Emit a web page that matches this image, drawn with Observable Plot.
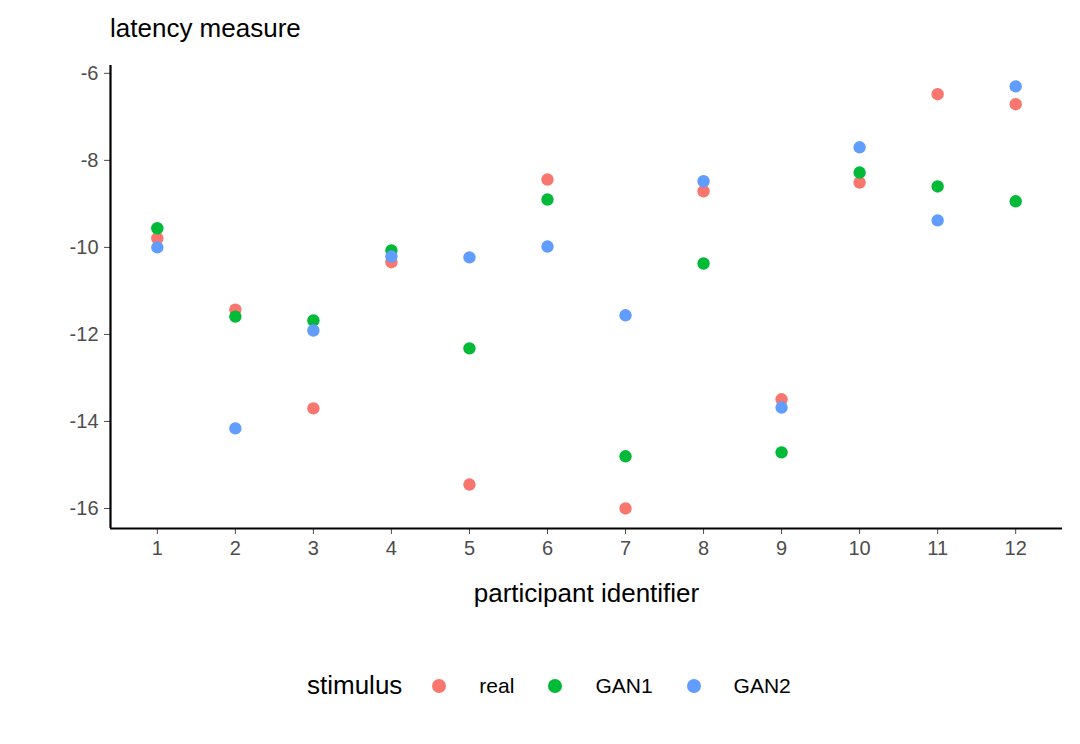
<!DOCTYPE html>
<html><head><meta charset="utf-8">
<script src="https://cdn.jsdelivr.net/npm/d3@7"></script>
<script src="https://cdn.jsdelivr.net/npm/@observablehq/plot@0.6"></script>
<style>
body{margin:0;background:#fff;font-family:"Liberation Sans",Arial,sans-serif;}
#wrap{position:relative;width:1080px;height:744px;}
#title{position:absolute;left:110px;top:13px;font-size:26px;color:#000;}
#legend{position:absolute;top:670px;left:307px;font-size:26px;display:flex;align-items:center;}
.sw{display:inline-block;width:14px;height:14px;border-radius:50%;margin:0 33px 0 34px;}
.lab{font-size:21px;color:#000;}
</style></head><body>
<div id="wrap"><div id="title">latency measure</div><div id="chart"></div><div id="legend"></div></div>
<script>
const participants=[1,2,3,4,5,6,7,8,9,10,11,12];
const real=[-9.79,-11.43,-13.70,-10.34,-15.45,-8.44,-16.0,-8.71,-13.49,-8.51,-6.48,-6.71];
const gan1=[-9.56,-11.59,-11.68,-10.07,-12.32,-8.90,-14.80,-10.37,-14.71,-8.28,-8.60,-8.94];
const gan2=[-10.0,-14.16,-11.91,-10.21,-10.23,-9.98,-11.56,-8.48,-13.68,-7.70,-9.38,-6.30];
const stimuli=["real","GAN1","GAN2"];
const colors=["#F8766D","#00BA38","#619CFF"];
const series=[real,gan1,gan2];
const data=[];
stimuli.forEach((s,i)=>participants.forEach((p,j)=>data.push({p,v:series[i][j],s})));
const plot=Plot.plot({
  width:1080,height:640,marginLeft:110,marginRight:18,marginTop:65,marginBottom:112,
  style:{fontFamily:"Liberation Sans, Arial, sans-serif",fontSize:"20px",color:"#4d4d4d"},
  x:{domain:[0.4,12.6]},
  y:{domain:[-16.46,-5.82]},
  color:{domain:stimuli,range:colors},
  marks:[
    Plot.axisX({ticks:participants,tickFormat:d=>d,tickSize:6,tickPadding:6,fontSize:20,label:null}),
    Plot.axisY({ticks:[-16,-14,-12,-10,-8,-6],tickFormat:d=>String(d).replace("−","-"),tickSize:6,tickPadding:6,fontSize:20,label:null}),
    Plot.ruleX([0.4],{stroke:"#000",strokeWidth:2.2}),
    Plot.ruleY([-16.46],{stroke:"#000",strokeWidth:2.2}),
    Plot.text(["participant identifier"],{frameAnchor:"bottom",dy:73,fontSize:26,fill:"#000"}),
    Plot.dot(data,{x:"p",y:"v",fill:"s",r:6.2})
  ]
});
document.getElementById("chart").appendChild(plot);
const lg=document.getElementById("legend");
lg.innerHTML='<span style="margin-right:-4px">stimulus</span>'+stimuli.map((s,i)=>`<span class="sw" style="background:${colors[i]}"></span><span class="lab">${s}</span>`).join("");
</script></body></html>
